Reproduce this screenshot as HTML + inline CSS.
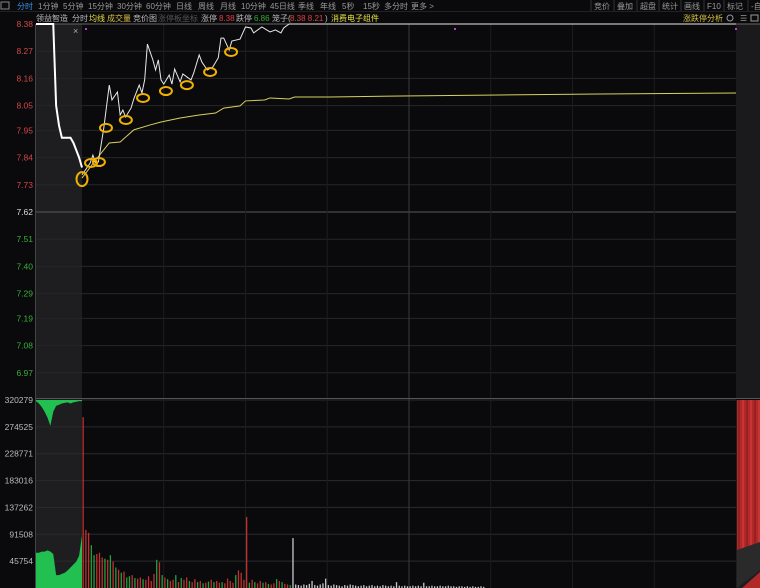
<!DOCTYPE html>
<html><head><meta charset="utf-8">
<style>
html,body{margin:0;padding:0;background:#0a0a0c;}
body{width:760px;height:588px;overflow:hidden;position:relative;font-family:"Liberation Sans","Noto Sans CJK SC",sans-serif;}
svg{position:absolute;left:0;top:0;}
text{font-family:"Liberation Sans","Noto Sans CJK SC",sans-serif;}
</style></head>
<body>
<svg id="chart" width="760" height="588">
  <rect x="0" y="0" width="760" height="588" fill="#0a0a0c"/>
  <g id="toolbar"></g>
  <g id="infobar"></g>
  <g id="grid"></g>
  <g id="vol"></g>
  <g id="price"></g>
  <g id="axis"></g>
</svg>
<script>
// ---- data ----
const priceMinutes=[0,3,4,5,6,8,10,11,13,14,15,16,18,19,21,22,23,24,26,27,28,29,30,32,33,34,36,37,40,41,43,44,46,48,50,51,52,54,55,58,60,62,63,66,69,71,73,74,76,240];
const priceValues=[7.77,7.818,7.85,7.818,7.822,7.96,8.133,8.073,8.105,8.012,8.032,8.004,8.04,8.077,8.133,8.101,8.154,8.299,8.235,8.194,8.235,8.154,8.137,8.174,8.137,8.198,8.146,8.178,8.154,8.182,8.255,8.226,8.194,8.206,8.243,8.323,8.323,8.275,8.311,8.319,8.368,8.364,8.344,8.368,8.348,8.356,8.344,8.364,8.38,8.38];
const avgMinutes=[0,5,10,14,19,25,29,36,43,49,52,58,60,67,69,76,78,91,117,153,190,240];
const avgValues=[7.757,7.83,7.899,7.903,7.952,7.972,7.984,8.0,8.012,8.02,8.04,8.049,8.069,8.073,8.081,8.077,8.085,8.085,8.089,8.093,8.097,8.101];
const auctionPrices=[8.38,8.38,8.38,8.38,8.38,8.38,8.38,8.05,7.97,7.92,7.92,7.92,7.92,7.90,7.87,7.84,7.80];
const auctionVolTop=[2,6,12,20,30,44,20,10,8,6,5,4,6,4,3,2,2];
const auctionVolBottom=[60,60,62,62,64,62,58,22,22,24,26,30,35,40,45,55,90];
const volumes=[291,99,94,73,56,58,60,52,50,48,56,45,35,31,26,28,18,20,22,17,16,18,15,14,20,12,24,48,44,22,18,15,12,14,22,10,17,14,18,12,10,15,10,12,8,9,11,14,10,12,9,10,8,16,12,9,22,30,26,14,121,9,14,10,8,12,9,10,7,6,8,15,12,10,7,6,5,85,
6,5,4,6,5,7,12,5,4,6,8,16,5,4,6,5,4,3,5,4,6,5,4,3,4,5,3,4,5,3,4,3,5,4,3,4,3,10,4,3,4,3,3,4,3,4,3,9,3,3,4,3,3,4,3,3,4,3,3,2,3,3,2,3,2,3,2,2,3,2];
const volColors="rrrggrrrgr"+"grgrgrggrg"+"rrgrrrrgrg"+"rgrrgrgrrg"+"rrgrgrgrgr"+"rgrrrrgrrr"+"rgrgrrgrgr"+"rgrgrrgw";
const priceTicks=[8.38,8.27,8.16,8.05,7.95,7.84,7.73,7.62,7.51,7.40,7.29,7.19,7.08,6.97];
const volTicks=["320279","274525","228771","183016","137262","91508","45754"];
const volTickValues=[320.279,274.525,228.771,183.016,137.262,91.508,45.754];
const markMinutes=[0,3.3,6.2,8.8,16.1,22.4,30.8,38.5,47,54.7];
const markPrices=[7.753,7.818,7.822,7.96,7.992,8.081,8.109,8.133,8.186,8.267];
const periodLabels=["分时","1分钟","5分钟","15分钟","30分钟","60分钟","日线","周线","月线","10分钟","45日线","季线","年线","5秒","15秒","多分时","更多 >"];
const periodX=[17,38,63,88,117,146,176,198,220,241,270,298,320,342,363,384,411];
const toolLabels=["竞价","叠加","超盘","统计","画线","F10","标记","-自"];
const toolX=[594,617,640,662,684,707,727,751];

// ---- scales ----
const X0=82,X1=736,PREV=7.62;
const xM=m=>X0+m*(X1-X0)/240;
const yP=p=>212-(p-PREV)/0.76*188;
const yV=v=>588-v/320.279*188;
const xA=i=>36+i*46/(auctionPrices.length-1);
const NS="http://www.w3.org/2000/svg";
function mk(parent,tag,attrs){const e=document.createElementNS(NS,tag);for(const k in attrs)e.setAttribute(k,attrs[k]);document.getElementById(parent).appendChild(e);return e;}

// toolbar
periodLabels.forEach((t,i)=>{const e=mk('toolbar','text',{x:periodX[i],y:9,'font-size':8,fill:i==0?'#3a8ee8':'#9a9a9a'});e.textContent=t;

});
mk('toolbar','rect',{x:1,y:2,width:8,height:7,fill:'none',stroke:'#888'});
toolLabels.forEach((t,i)=>{const e=mk('toolbar','text',{x:toolX[i],y:9,'font-size':8,fill:'#9a9a9a'});e.textContent=t;


mk('toolbar','line',{x1:toolX[i]-3,y1:0,x2:toolX[i]-3,y2:11,stroke:'#333'});});
mk('toolbar','line',{x1:0,y1:11.5,x2:760,y2:11.5,stroke:'#222'});

// info bar
const info=[["领益智造",36,'#bbb'],["分时",72,'#bbb'],["均线",89,'#e8e040'],["成交量",107,'#d8c040'],["竞价图",133,'#bbb'],["涨停板坐标",158,'#555'],["涨停",201,'#bbb'],["8.38",219,'#e04040'],["跌停",236,'#bbb'],["6.86",254,'#30b030'],["笼子(",272,'#bbb'],["8.38 8.21",290,'#e04040'],[")",325,'#bbb'],["消费电子组件",331,'#e8e040'],["涨跌停分析",683,'#d8c040']];
info.forEach(a=>{const e=mk('infobar','text',{x:a[1],y:21,'font-size':8,fill:a[2]});e.textContent=a[0];

});
mk('infobar','circle',{cx:730,cy:18,r:3,fill:'none',stroke:'#999'});
mk('infobar','text',{x:740,y:21,'font-size':8,fill:'#999'}).textContent="☰";
mk('infobar','rect',{x:751,y:15,width:7,height:6,fill:'none',stroke:'#999'});

// shaded regions
mk('grid','rect',{x:36,y:24,width:46,height:374,fill:'#1e1e20'});
mk('grid','rect',{x:736,y:24,width:24,height:374,fill:'#1a1a1c'});
mk('grid','rect',{x:36,y:400,width:46,height:188,fill:'#1e1e20'});
mk('grid','rect',{x:736,y:400,width:24,height:188,fill:'#1e1e20'});
// grid lines
priceTicks.forEach(p=>mk('grid','line',{x1:36,x2:736,y1:yP(p),y2:yP(p),stroke:p==PREV?'#5a5a5a':'#262628','stroke-width':1}));
volTickValues.forEach(v=>mk('grid','line',{x1:36,x2:736,y1:yV(v),y2:yV(v),stroke:'#2a2a2c'}));
for(let k=1;k<8;k++){const x=xM(k*30);mk('grid','line',{x1:x,x2:x,y1:24,y2:588,stroke:k==4?'#3a3a3c':'#1c1c1e'});}
mk('grid','line',{x1:36,x2:760,y1:398.5,y2:398.5,stroke:'#555'});
mk('grid','line',{x1:36,x2:760,y1:24,y2:24,stroke:'#666'});
mk('grid','line',{x1:35.5,x2:35.5,y1:24,y2:588,stroke:'#444'});

// axis labels
priceTicks.forEach(p=>{const e=mk('axis','text',{x:33,y:yP(p)+3,'font-size':8.5,'text-anchor':'end',fill:p>PREV?'#d04848':(p<PREV?'#38b038':'#ddd')});e.textContent=p.toFixed(2);

});
volTicks.forEach((t,i)=>{const e=mk('axis','text',{x:33,y:yV(volTickValues[i])+3,'font-size':8.5,'text-anchor':'end',fill:'#bbb'});e.textContent=t;

});

// auction volume areas
let topPath='M'+xA(0)+',400 ';auctionVolTop.forEach((v,i)=>topPath+='L'+xA(i)+','+(400+(588-yV(v)))+' ');topPath+='L'+xA(auctionVolTop.length-1)+',400Z';
const at=mk('vol','path',{d:topPath,fill:'#22c050'});


let botPath='M'+xA(0)+',588 ';auctionVolBottom.forEach((v,i)=>botPath+='L'+xA(i)+','+yV(v)+' ');botPath+='L'+xA(auctionVolBottom.length-1)+',588Z';
const ab=mk('vol','path',{d:botPath,fill:'#22c050'});


// right post area
mk('vol','rect',{x:737,y:400,width:23,height:150,fill:'#b02828'});
for(let k=0;k<6;k++)mk('vol','line',{x1:739+k*4,x2:739+k*4,y1:400,y2:550,stroke:k%2?'#e04040':'#801818','stroke-width':1});
mk('vol','path',{d:'M737,550 L760,542 L760,570 L737,588Z',fill:'#2a2a2a'});
mk('vol','path',{d:'M742,588 L760,572 L760,588Z',fill:'#b02828'});

// volume bars
volumes.forEach((v,i)=>{const c=volColors[i]||'w';const x=xM(i)+0.5;
const r=mk('vol','rect',{x:x,y:yV(v),width:1.3,height:588-yV(v),fill:c=='r'?'#c03030':(c=='g'?'#20a040':'#c8c8c8')});

});

// auction price
let ap='';auctionPrices.forEach((p,i)=>ap+=(i?'L':'M')+xA(i)+','+yP(p)+' ');
const apl=mk('price','path',{d:ap,fill:'none',stroke:'#fff','stroke-width':2});


// avg line
let avg='';avgMinutes.forEach((m,i)=>avg+=(i?'L':'M')+xM(m)+','+yP(avgValues[i])+' ');
const al=mk('price','path',{d:avg,fill:'none',stroke:'#d8d060','stroke-width':1});


// price line
let pl='';priceMinutes.forEach((m,i)=>pl+=(i?'L':'M')+xM(m)+','+yP(priceValues[i])+' ');
const pll=mk('price','path',{d:pl,fill:'none',stroke:'#e8e8e8','stroke-width':1});


// annotation circles
markMinutes.forEach((m,i)=>{const e=mk('price','ellipse',{cx:xM(m),cy:yP(markPrices[i]),rx:i==0?5.5:6,ry:i==0?7:4,fill:'none',stroke:'#f0b000','stroke-width':2});

});
// misc marks
const xm=mk('price','text',{x:73,y:34,'font-size':9,fill:'#aaa'});xm.textContent='×';


[85,454,735].forEach(x=>mk('price','rect',{x:x,y:28,width:2,height:2,fill:'#c040c0'}));
</script>
</body></html>
